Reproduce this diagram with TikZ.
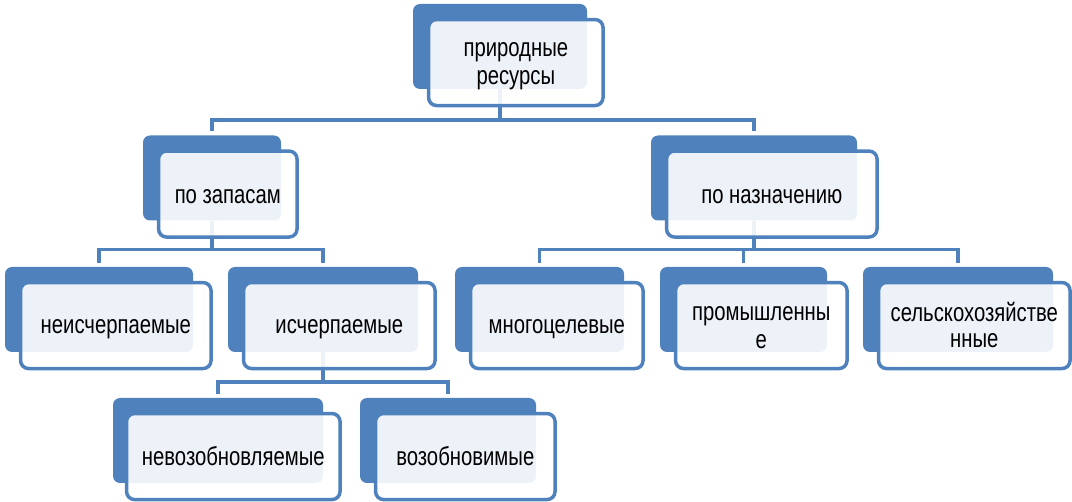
\documentclass[tikz,border=0pt]{standalone}
\usepackage{fontspec}
\newfontfamily\boxfont{Liberation Sans}[FakeStretch=0.78]
\usepackage{tikz}
\usetikzlibrary{positioning}
\definecolor{boxblue}{HTML}{4F81BD}
\newcommand{\tstrut}{\rule[-3.5pt]{0pt}{25pt}}
\tikzset{back/.style = {rectangle, rounded corners=7pt, fill=boxblue, minimum height=85pt, inner sep=0pt}}
\tikzset{front/.style = {rectangle, rounded corners=8pt, draw=boxblue, line width=3.5pt, fill=white, fill opacity=0.9, text opacity=1, minimum height=86pt, inner sep=0pt, align=center, font=\boxfont\fontsize{26}{25.5}\selectfont}}
\tikzset{link/.style = {draw=boxblue, line width=3.5pt}}

\begin{document}
\begin{tikzpicture}[x=1pt,y=-1pt]
\useasboundingbox (0,0) rectangle (1072,502);

\node[back, minimum width=174pt] (topB) at (500,46.5) {};
\node[back, minimum width=138pt] (zapasB) at (212,178) {};
\node[back, minimum width=206pt] (naznB) at (754,178) {};
\node[back, minimum width=188pt] (neischB) at (99,309.5) {};
\node[back, minimum width=190pt] (ischB) at (323,309.5) {};
\node[back, minimum width=169pt] (mnogoB) at (539.5,309.5) {};
\node[back, minimum width=167pt] (promB) at (743.5,309.5) {};
\node[back, minimum width=190pt] (selskB) at (958,309.5) {};
\node[back, minimum width=210pt] (nevozB) at (218,440.5) {};
\node[back, minimum width=176pt] (vozB) at (448,440.5) {};

\draw[link, shorten >=4pt] (topB.south) -- ++(0,31) -| (zapasB.north);
\draw[link, shorten >=4pt] (topB.south) -- ++(0,31) -| (naznB.north);

\draw[link, shorten >=4pt] (zapasB.south) -- ++(0,29) -| (neischB.north);
\draw[link, shorten >=4pt] (zapasB.south) -- ++(0,29) -| (ischB.north);

\draw[link, shorten >=4pt] (naznB.south) -- ++(0,29) -| (mnogoB.north);
\draw[link, shorten >=4pt] (naznB.south) -- ++(0,29) -| (promB.north);
\draw[link, shorten >=4pt] (naznB.south) -- ++(0,29) -| (selskB.north);

\draw[link, shorten >=4pt] (ischB.south) -- ++(0,30) -| (nevozB.north);
\draw[link, shorten >=4pt] (ischB.south) -- ++(0,30) -| (vozB.north);

\node[front, minimum width=174.5pt, below right=14pt and 14pt of topB.north west] (top) {\tstrut природные\\\tstrut ресурсы};
\node[front, minimum width=138.5pt, below right=14pt and 14pt of zapasB.north west] (zapas) {\tstrut по запасам};
\node[front, minimum width=210.5pt, below right=14pt and 14pt of naznB.north west] (nazn) {\tstrut по назначению};
\node[front, minimum width=190.5pt, below right=14pt and 14pt of neischB.north west] (neisch) {\tstrut неисчерпаемые};
\node[front, minimum width=191.5pt, below right=14pt and 14pt of ischB.north west] (isch) {\tstrut исчерпаемые};
\node[front, minimum width=172.5pt, below right=14pt and 14pt of mnogoB.north west] (mnogo) {\tstrut многоцелевые};
\node[front, minimum width=171.5pt, below right=14pt and 14pt of promB.north west] (prom) {\tstrut промышленны\\\tstrut е};
\node[front, minimum width=191.5pt, below right=14pt and 14pt of selskB.north west] (selsk) {\tstrut сельскохозяйстве\\\tstrut нные};
\node[front, minimum width=213.5pt, below right=14pt and 12pt of nevozB.north west] (nevoz) {\tstrut невозобновляемые};
\node[front, minimum width=179.5pt, below right=14pt and 14pt of vozB.north west] (voz) {\tstrut возобновимые};
\end{tikzpicture}
\end{document}
